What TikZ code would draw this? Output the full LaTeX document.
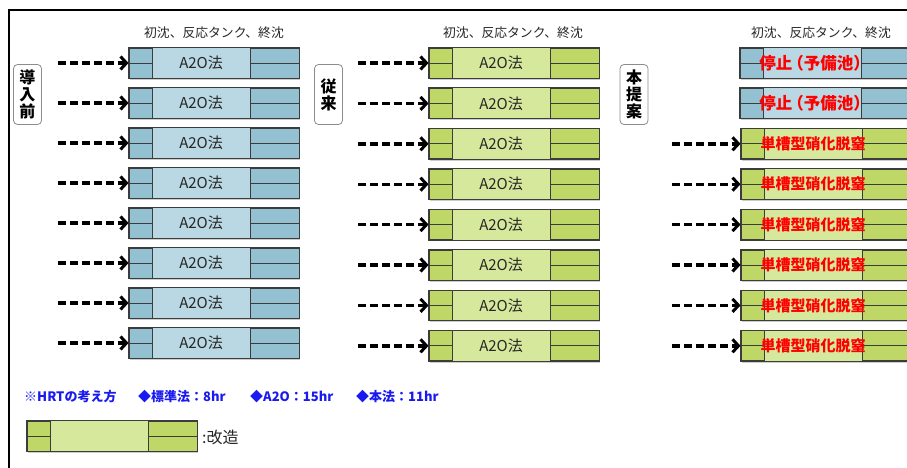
\documentclass[tikz,border=0pt]{standalone}
\usepackage{fontspec}
\setmainfont{Noto Sans CJK JP}
\usetikzlibrary{arrows.meta,shadows}
\definecolor{bdark}{HTML}{93C1D1}
\definecolor{blight}{HTML}{B9D8E3}
\definecolor{gdark}{HTML}{BED766}
\definecolor{glight}{HTML}{D6E89C}
\definecolor{edgec}{HTML}{3C3C3C}
\definecolor{legblue}{HTML}{1A1AF0}
\tikzset{
  tankbox/.style={draw=edgec, line width=0.9pt, minimum width=170pt, minimum height=30pt, inner sep=0pt,
    drop shadow={shadow xshift=1.2pt, shadow yshift=-1.8pt, opacity=0.4}},
  tankline/.style={draw=edgec, line width=0.9pt},
  a2o/.style={font=\fontsize{15}{15}\selectfont, text=black!85},
  redtxt/.style={font=\fontsize{15}{15}\selectfont\bfseries, text=red},
  redbig/.style={font=\fontsize{16.5}{16.5}\selectfont\bfseries, text=red},
  flow/.style={line width=3.4pt, dash pattern=on 8pt off 4pt, -{Straight Barb[length=6pt,width=13pt,line width=3pt]}},
  header/.style={font=\fontsize{12.8}{12.8}\selectfont, text=black!85},
  sidelabel/.style={draw=black!45, fill=white, rounded corners=4pt, line width=0.8pt, minimum width=28pt, minimum height=60pt,
    inner sep=1pt, align=center, font=\fontsize{16}{17}\selectfont\bfseries},
  legtxt/.style={anchor=west, inner sep=0pt, font=\fontsize{13}{13}\selectfont\bfseries, text=legblue}
}
\newcommand\tank[8][72.5]{%
  \node[tankbox, fill=#5] (#2) at ({#3+85},{#4}) {};
  \fill[#6] ([xshift=24pt]#2.north west) rectangle ([xshift=-49pt]#2.south east);
  \draw[tankline] (#2.west) -- ([xshift=24pt]#2.west);
  \draw[tankline] ([xshift=-49pt]#2.east) -- (#2.east);
  \draw[tankline] ([xshift=24pt]#2.north west) -- ([xshift=24pt]#2.south west);
  \draw[tankline] ([xshift=-49pt]#2.north east) -- ([xshift=-49pt]#2.south east);
  \draw[tankline] (#2.north west) rectangle (#2.south east);
  \node[#7, inner sep=0pt] (#2-t) at ([xshift=#1pt]#2.west) {#8};
}
\begin{document}
\begin{tikzpicture}[x=1pt,y=-1pt]
\useasboundingbox (0,0) rectangle (907,468);
\draw[line width=2.4pt] (9,480) -- (9,10) -- (925,10);
% headers
\node[header] (h1) at (214,33) {初沈、反応タンク、終沈};
\node[header] (h2) at (513,33) {初沈、反応タンク、終沈};
\node[header] (h3) at (821,33) {初沈、反応タンク、終沈};
% side labels
\node[sidelabel] (s1) at (27.5,94.5) {導\\入\\前};
\node[sidelabel] (s2) at (328.5,94.5) {従\\来};
\node[sidelabel] (s3) at (634,94.5) {本\\提\\案};
% column 1
\foreach \i in {1,...,8} {
  \tank{a\i}{129}{63+40*(\i-1)}{bdark}{blight}{a2o}{A2O法}
  \coordinate (sa\i) at (58,{63+40*(\i-1)});
  \draw[flow] (sa\i) -- (a\i.west);
}
% column 2
\foreach \i in {1,...,8} {
  \tank{b\i}{429}{63+40.4*(\i-1)}{gdark}{glight}{a2o}{A2O法}
  \coordinate (sb\i) at (358,{63+40.4*(\i-1)});
  \draw[flow] (sb\i) -- (b\i.west);
}
% column 3
\foreach \i in {1,2} {
  \tank[75]{c\i}{740}{63+40.4*(\i-1)}{bdark}{blight}{redbig}{停止\kern-5pt（予備池）}
}
\foreach \i in {3,...,8} {
  \tank{c\i}{741}{63+40.4*(\i-1)}{gdark}{glight}{redtxt}{単槽型硝化脱窒}
  \coordinate (sc\i) at (672,{63+40.4*(\i-1)});
  \draw[flow] (sc\i) -- (c\i.west);
}
% legend
\node[legtxt] (l1) at (24,397) {※HRTの考え方};
\node[legtxt] (l2) at (138,397) {◆標準法：8hr};
\node[legtxt] (l3) at (250,397) {◆A2O：15hr};
\node[legtxt] (l4) at (356,397) {◆本法：11hr};
\tank{lg}{27}{436}{gdark}{glight}{a2o}{}
\node[anchor=west, inner sep=0pt, font=\fontsize{16}{16}\selectfont, text=black!85] (lgt2) at (202,437) {:改造};
\end{tikzpicture}
\end{document}
